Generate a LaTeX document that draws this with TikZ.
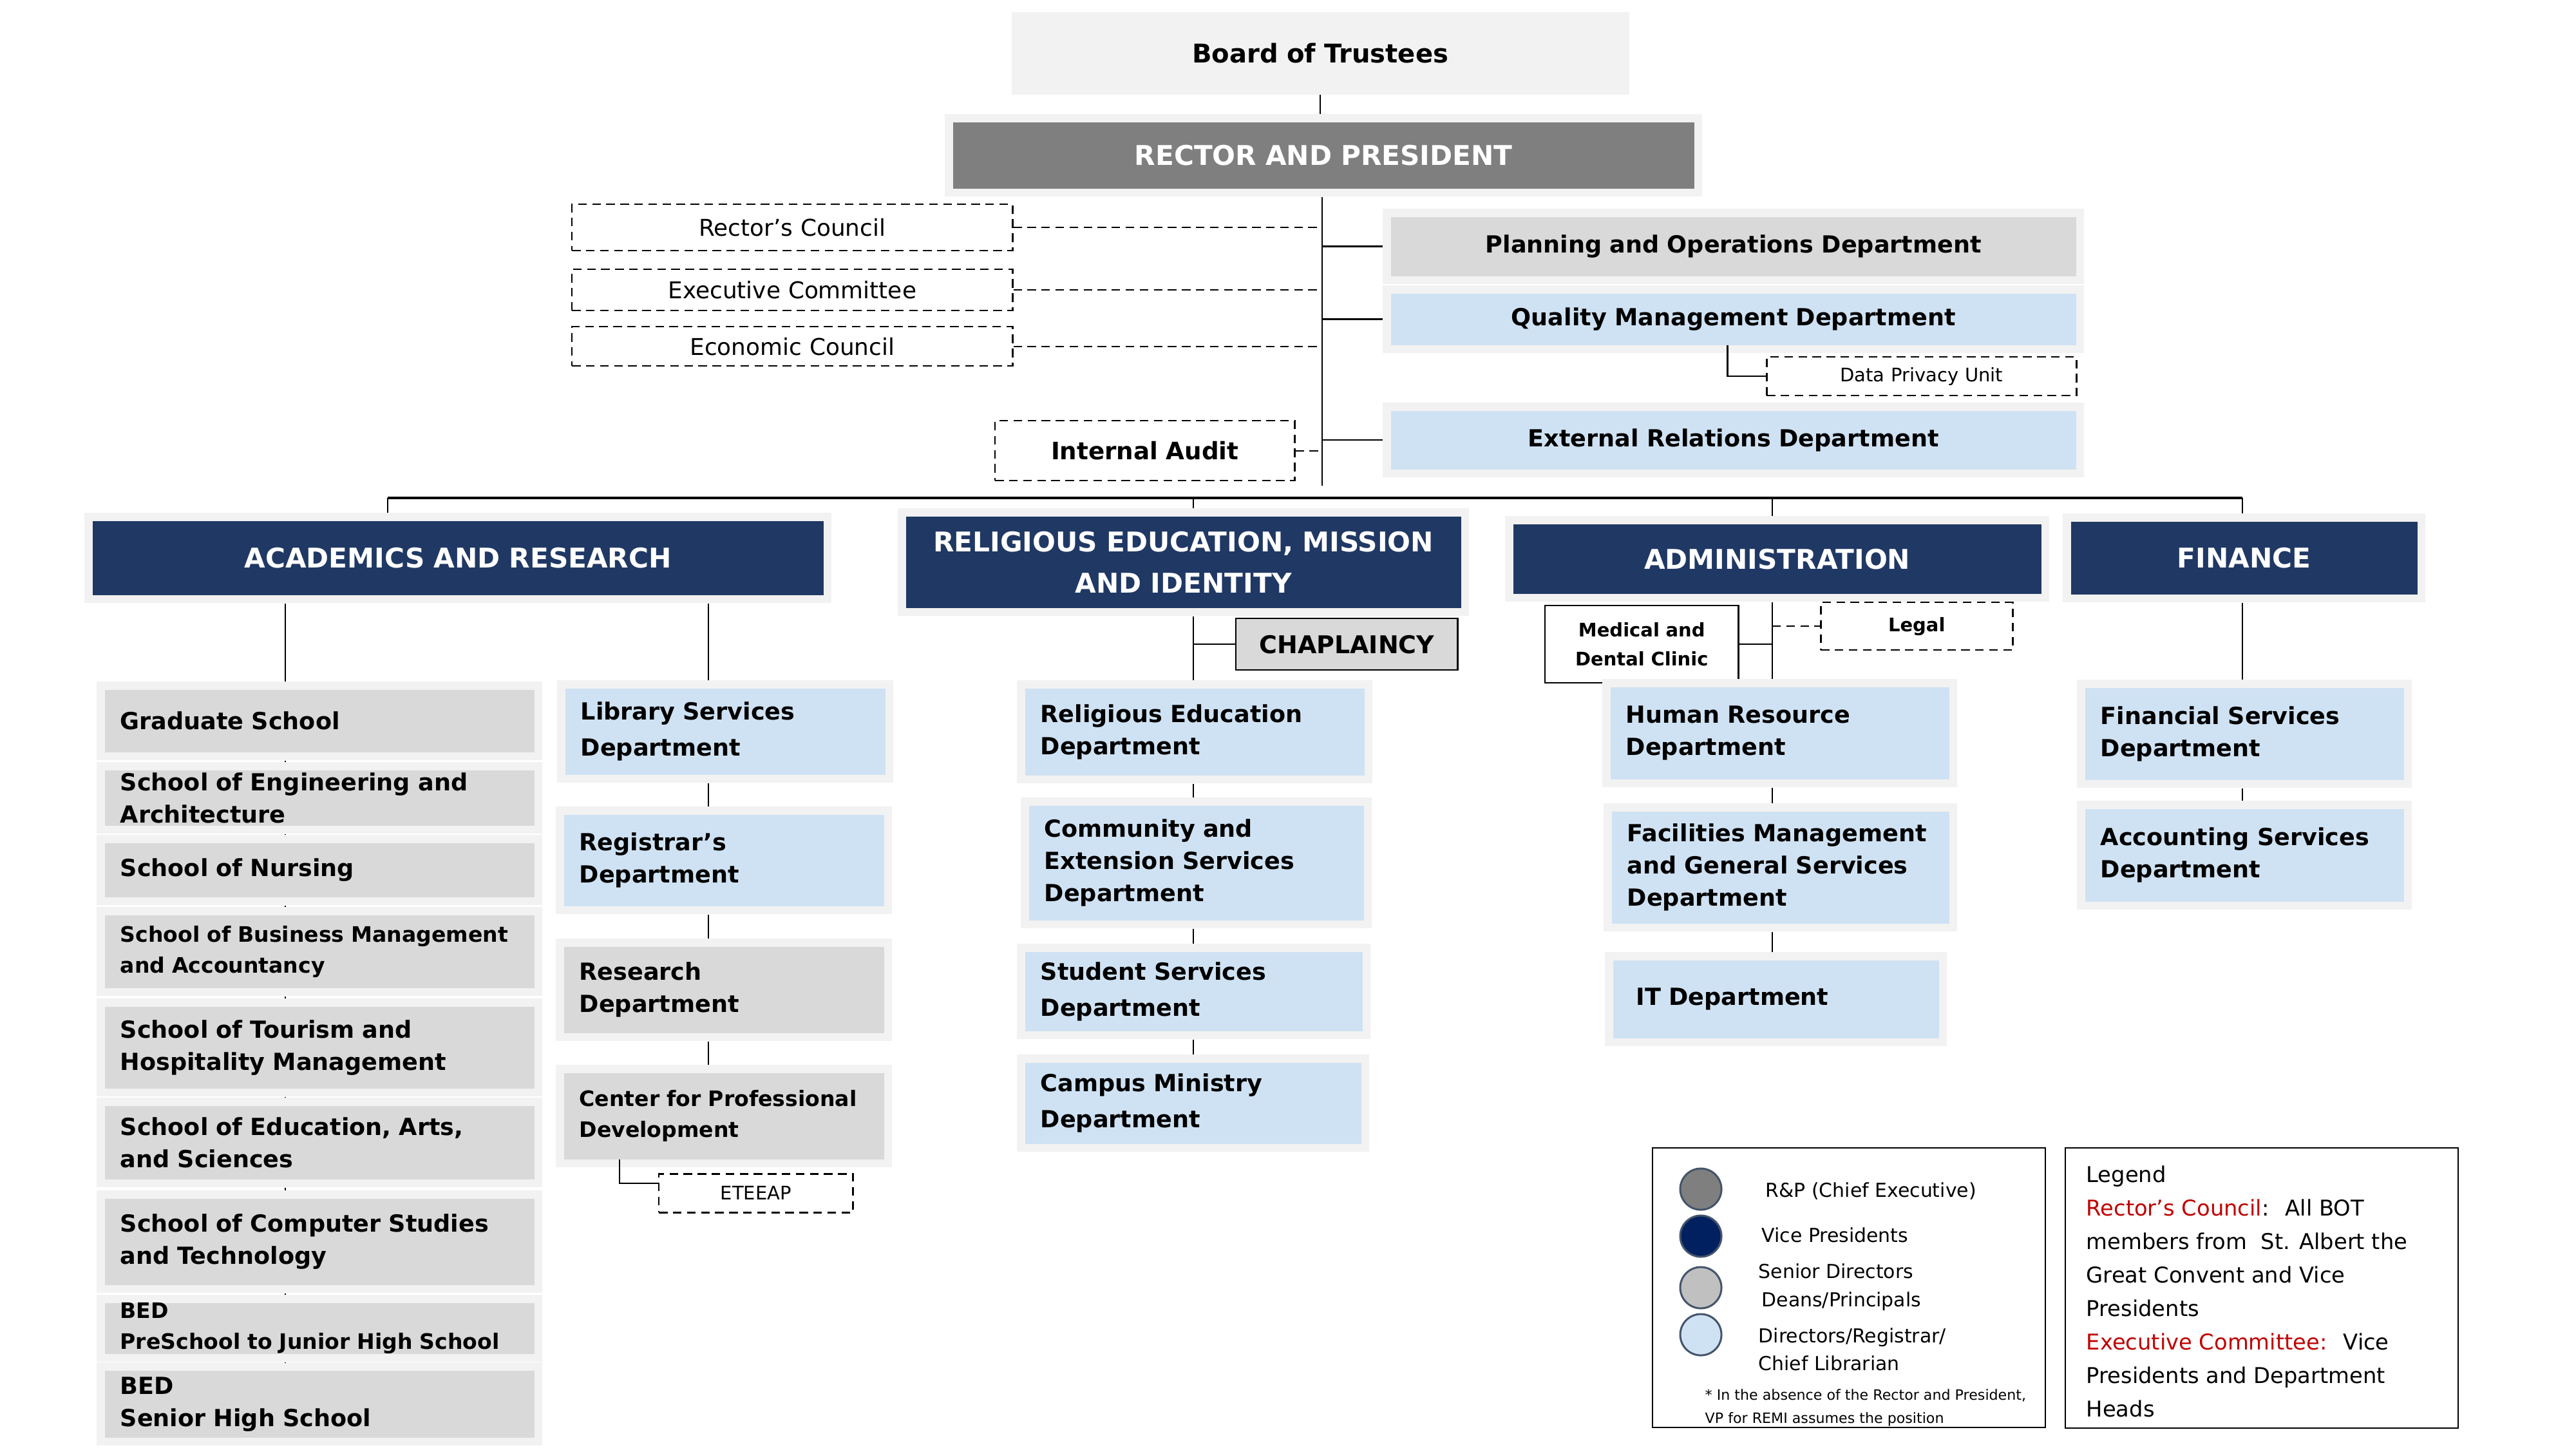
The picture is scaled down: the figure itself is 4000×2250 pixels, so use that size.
\documentclass[tikz,border=0pt]{standalone}
\usepackage{fontspec}
\setmainfont{DejaVu Sans}

\definecolor{framegray}{HTML}{F2F2F2}
\definecolor{navy}{HTML}{203864}
\definecolor{rpgray}{HTML}{7F7F7F}
\definecolor{srgray}{HTML}{D9D9D9}
\definecolor{dirblue}{HTML}{CFE2F3}
\definecolor{vpnavy}{HTML}{002060}
\definecolor{lggray}{HTML}{C0C0C0}
\definecolor{ringslate}{HTML}{44546A}
\definecolor{legred}{HTML}{C00000}

\newcommand{\boardfont}{\fontsize{11.4pt}{14pt}\selectfont\bfseries}
\newcommand{\vpfont}{\fontsize{12pt}{18.2pt}\selectfont\bfseries}
\newcommand{\deptfont}{\fontsize{10.4pt}{14.2pt}\selectfont\bfseries}
\newcommand{\deptwide}{\fontsize{10.4pt}{15.9pt}\selectfont\bfseries}
\newcommand{\smalldept}{\fontsize{9.4pt}{13.6pt}\selectfont\bfseries}
\newcommand{\auditfont}{\fontsize{10.6pt}{13pt}\selectfont\bfseries}
\newcommand{\chapfont}{\fontsize{10.8pt}{13pt}\selectfont\bfseries}
\newcommand{\councilfont}{\fontsize{10.2pt}{12pt}\selectfont}
\newcommand{\tinybold}{\fontsize{8.25pt}{13pt}\selectfont\bfseries}
\newcommand{\tinyplain}{\fontsize{8.25pt}{10pt}\selectfont}
\newcommand{\keyfont}{\fontsize{8.5pt}{12.4pt}\selectfont}
\newcommand{\notefont}{\fontsize{6.3pt}{10.2pt}\selectfont}
\newcommand{\legendfont}{\fontsize{9.6pt}{14.8pt}\selectfont}

\tikzset{
  link/.style={draw, line width=0.7pt},
  tie/.style={link, shorten <=0.125cm, shorten >=0.125cm},
  bus/.style={draw, line width=0.9pt},
  dashlink/.style={draw, line width=0.7pt, dash pattern=on 3.8pt off 2.4pt},
  framed/.style={preaction={draw=framegray, line width=0.25cm}},
  vpbox/.style={framed, fill=navy, text=white, align=center, font=\vpfont},
  srbox/.style={framed, fill=srgray, align=left, font=\deptfont},
  dirbox/.style={framed, fill=dirblue, align=left, font=\deptfont},
  dashbox/.style={dashlink, fill=white, align=center},
  solidbox/.style={draw, line width=0.7pt, align=center},
  keyframe/.style={draw, line width=0.8pt},
  keydot/.style={circle, draw=ringslate, line width=0.85pt, minimum size=0.64cm, inner sep=0pt},
  keytext/.style={anchor=west, inner sep=0pt, align=left, font=\keyfont},
}

% style, name, left, top, width, height, text
\newcommand{\UNIT}[7]{
  \pgfmathsetlengthmacro{\unitw}{(#5-48)*0.01cm}
  \node[#1, anchor=north west, inner xsep=0.24cm, inner ysep=0pt,
        minimum width=#5*0.01cm, minimum height=#6*0.01cm,
        text width=\unitw] (#2) at (#3,#4) {#7};
}

\begin{document}
\begin{tikzpicture}[x=0.01cm, y=-0.01cm]
  \path[use as bounding box, fill=white] (0,0) rectangle (4000,2250);

  \UNIT{fill=framegray, align=center, font=\boardfont}{board}{1570}{18}{959}{128}{Board of Trustees}
  \UNIT{framed, fill=rpgray, text=white, align=center, font=\vpfont}{rector}{1479}{189}{1151}{103}{RECTOR AND PRESIDENT}

  \UNIT{dashbox, font=\councilfont}{rcouncil}{887}{316}{684}{72}{Rector’s Council}
  \UNIT{dashbox, font=\councilfont}{excom}{887}{417}{684}{64}{Executive Committee}
  \UNIT{dashbox, font=\councilfont}{econ}{887}{506}{684}{61}{Economic Council}
  \UNIT{dashbox, font=\auditfont}{audit}{1544}{652}{465}{93}{Internal Audit}

  \UNIT{srbox, align=center}{plan}{2159}{336}{1064}{92}{Planning and Operations Department}
  \UNIT{dirbox, align=center}{qual}{2159}{455}{1064}{80}{Quality Management Department}
  \UNIT{dashbox, font=\tinyplain}{dpu}{2742}{553}{481}{60}{Data Privacy Unit}
  \UNIT{dirbox, align=center}{extrel}{2159}{637}{1064}{91}{External Relations Department}

  \coordinate (trunk) at (2053,754);
  \draw[link, shorten >=0.125cm] (board.south) -- (board.south |- rector.north);
  \draw[link, shorten <=0.125cm] (trunk |- rector.south) -- (trunk);
  \foreach \c in {rcouncil, excom, econ, audit}
    \draw[dashlink] (\c.east) -- (\c.east -| trunk);
  \foreach \d in {plan, qual, extrel}
    \draw[link, shorten >=0.125cm] (\d.west -| trunk) -- (\d.west);
  \draw[link] ([xshift=5.23cm]qual.south west) |- (dpu.west);

  \UNIT{vpbox}{acad}{143}{808}{1135}{115}{ACADEMICS AND RESEARCH}
  \UNIT{vpbox}{remi}{1406}{801}{862}{142}{RELIGIOUS EDUCATION, MISSION\\AND IDENTITY}
  \UNIT{vpbox}{admin}{2349}{813}{820}{108}{ADMINISTRATION}
  \UNIT{vpbox}{fin}{3215}{809}{538}{113}{FINANCE}

  \coordinate (busL) at (602,773);
  \coordinate (busR) at (3482,773);
  \coordinate (acadL) at (443,0);
  \coordinate (acadR) at (1100,0);
  \coordinate (remiX) at (1853,0);
  \coordinate (adminX) at (2752,0);
  \draw[bus] (busL) -- (busR);
  \draw[link, shorten >=0.125cm] (busL) -- (busL |- acad.north);
  \draw[link, shorten >=0.125cm] (remiX |- busL) -- (remiX |- remi.north);
  \draw[link, shorten >=0.125cm] (adminX |- busL) -- (adminX |- admin.north);
  \draw[link, shorten >=0.125cm] (busR) -- (busR |- fin.north);

  % academics and research
  \UNIT{srbox}{grad}{162}{1070}{667}{97}{Graduate School}
  \UNIT{srbox}{eng}{162}{1195}{667}{86}{School of Engineering and\\Architecture}
  \UNIT{srbox}{nurs}{162}{1308}{667}{84}{School of Nursing}
  \UNIT{srbox, font=\smalldept}{busi}{162}{1420}{667}{113}{School of Business Management\\and Accountancy}
  \UNIT{srbox}{tour}{162}{1562}{667}{127}{School of Tourism and\\Hospitality Management}
  \UNIT{srbox}{educ}{162}{1716}{667}{114}{School of Education, Arts,\\and Sciences}
  \UNIT{srbox}{comp}{162}{1860}{667}{134}{School of Computer Studies\\and Technology}
  \UNIT{srbox, font=\smalldept}{bedj}{162}{2022}{667}{76}{BED\\PreSchool to Junior High School}
  \UNIT{srbox}{beds}{162}{2127}{667}{104}{BED\\Senior High School}

  \UNIT{dirbox, font=\deptwide}{lib}{877}{1068}{497}{134}{Library Services\\Department}
  \UNIT{dirbox}{reg}{875}{1264}{497}{142}{Registrar’s\\Department}
  \UNIT{srbox}{res}{875}{1469}{497}{134}{Research\\Department}
  \UNIT{srbox, font=\smalldept}{cpd}{875}{1665}{497}{134}{Center for Professional\\Development}
  \UNIT{dashbox, font=\tinyplain}{eteeap}{1022}{1821}{301}{60}{ETEEAP}

  \draw[tie] (acad.south -| acadL) -- (grad.north -| acadL);
  \draw[tie] (acad.south -| acadR) -- (lib.north -| acadR);
  \foreach \a/\b in {grad/eng, eng/nurs, nurs/busi, busi/tour, tour/educ, educ/comp, comp/bedj, bedj/beds}
    \draw[tie] (\a.south -| acadL) -- (\b.north -| acadL);
  \foreach \a/\b in {lib/reg, reg/res, res/cpd}
    \draw[tie] (\a.south -| acadR) -- (\b.north -| acadR);
  \draw[link] ([xshift=0.87cm]cpd.south west) |- ([yshift=0.15cm]eteeap.west);

  % religious education, mission and identity
  \UNIT{solidbox, fill=srgray, font=\chapfont}{chap}{1918}{959}{344}{80}{CHAPLAINCY}
  \UNIT{dirbox}{reled}{1591}{1068}{527}{135}{Religious Education\\Department}
  \UNIT{dirbox}{comm}{1597}{1250}{520}{178}{Community and\\Extension Services\\Department}
  \UNIT{dirbox, font=\deptwide}{stud}{1591}{1477}{524}{123}{Student Services\\Department}
  \UNIT{dirbox, font=\deptwide}{camp}{1591}{1649}{522}{126}{Campus Ministry\\Department}

  \draw[tie] (remi.south -| remiX) -- (reled.north -| remiX);
  \draw[link] (chap.west -| remiX) -- (chap.west);
  \foreach \a/\b in {reled/comm, comm/stud, stud/camp}
    \draw[tie] (\a.south -| remiX) -- (\b.north -| remiX);

  % administration
  \UNIT{solidbox, fill=white, font=\tinybold}{med}{2398}{939}{300}{120}{Medical and\\Dental Clinic}
  \UNIT{dashbox, font=\tinybold}{legal}{2826}{934}{298}{74}{Legal}
  \UNIT{dirbox}{hr}{2500}{1066}{526}{143}{Human Resource\\Department}
  \UNIT{dirbox}{fac}{2502}{1259}{524}{174}{Facilities Management\\and General Services\\Department}
  \UNIT{dirbox}{it}{2504}{1490}{506}{121}{\hspace*{0.12cm}IT Department}

  \draw[tie] (admin.south -| adminX) -- (hr.north -| adminX);
  \draw[link] (med.east) -- (med.east -| adminX);
  \draw[dashlink] (legal.west -| adminX) -- (legal.west);
  \foreach \a/\b in {hr/fac, fac/it}
    \draw[tie] (\a.south -| adminX) -- (\b.north -| adminX);

  % finance
  \UNIT{dirbox}{fisd}{3237}{1067}{495}{143}{Financial Services\\Department}
  \UNIT{dirbox}{acct}{3237}{1255}{495}{144}{Accounting Services\\Department}

  \draw[tie] (fin.south -| busR) -- (fisd.north -| busR);
  \draw[tie] (fisd.south -| busR) -- (acct.north -| busR);

  % legend
  \draw[keyframe] (2566,1782) rectangle (3176,2216);
  \draw[keyframe] (3207,1782) rectangle (3817,2217);
  \foreach \n/\c/\y in {rp/rpgray/1846, vp/vpnavy/1919, sd/lggray/1999, dr/dirblue/2072}
    \node[keydot, fill=\c] (key\n) at (2641,\y) {};
  \node[keytext] (keyrp-t) at (2741,1849) {R\&P (Chief Executive)};
  \node[keytext] (keyvp-t) at (2735,1917) {Vice Presidents};
  \node[keytext] (keysd-t) at (2730,1998) {Senior Directors\\\hspace*{0.05cm}Deans/Principals};
  \node[keytext] (keydr-t) at (2730,2095) {Directors/Registrar/\\Chief Librarian};
  \node[keytext, font=\notefont] (keynote) at (2647,2185) {* In the absence of the Rector and President,\\VP for REMI assumes the position};

  \node[anchor=north west, inner sep=0pt, align=left, font=\legendfont] (legend) at (3239,1809)
    {Legend\\
     \textcolor{legred}{Rector’s Council}:~ All BOT\\
     members from~ St. Albert the\\
     Great Convent and Vice\\
     Presidents\\
     \textcolor{legred}{Executive Committee:}~ Vice\\
     Presidents and Department\\
     Heads};
\end{tikzpicture}
\end{document}
